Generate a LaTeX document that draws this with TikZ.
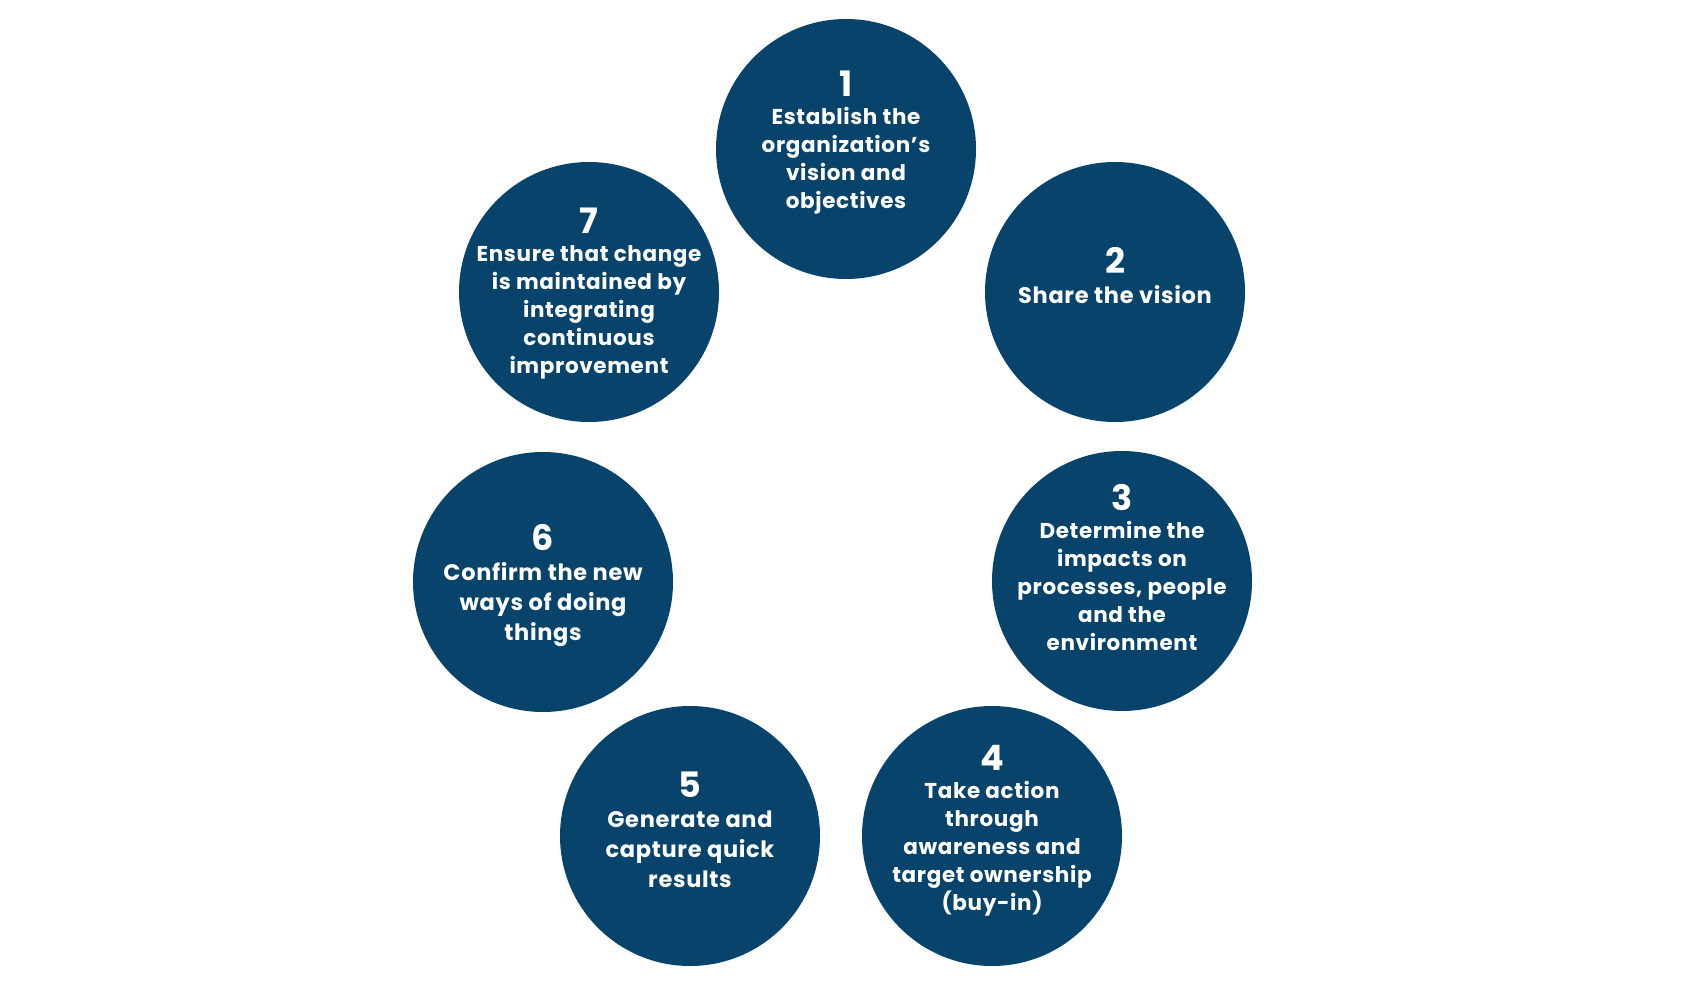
\documentclass[tikz,border=0pt]{standalone}
\usepackage{fontspec}
\setmainfont{Poppins}[LetterSpace=3]
\definecolor{navy}{RGB}{7,67,106}
\begin{document}
\begin{tikzpicture}[x=1pt,y=-1pt,
  disc/.style={circle,fill=navy,minimum size=260pt,inner sep=0pt},
  lbl/.style={text=white,align=center,anchor=north,inner sep=0pt,font=\bfseries\fontsize{21.5}{28}\selectfont},
  lblb/.style={lbl,font=\bfseries\fontsize{22.5}{30}\selectfont}]
\useasboundingbox (0,0) rectangle (1688,995);
\newcommand\bignum[1]{{\fontsize{35}{28}\selectfont #1}}
\node[disc] (c1) at (846,149) {};
\node[disc] (c2) at (1115,292) {};
\node[disc] (c3) at (1122,581) {};
\node[disc] (c4) at (992,836) {};
\node[disc] (c5) at (690,836) {};
\node[disc] (c6) at (543,582) {};
\node[disc] (c7) at (589,292) {};
\node[lbl] (t1) at (846,71) {\bignum{1}\\Establish the\\organization’s\\vision and\\objectives};
\node[lblb] (t2) at (1115,247) {\bignum{2}\\Share the vision};
\node[lbl] (t3) at (1122,484) {\bignum{3}\\Determine the\\impacts on\\processes, people\\and the\\environment};
\node[lbl] (t4) at (992,745) {\bignum{4}\\Take action\\through\\awareness and\\target ownership\\(buy-in)};
\node[lblb] (t5) at (690,772) {\bignum{5}\\Generate and\\capture quick\\results};
\node[lblb] (t6) at (543,524) {\bignum{6}\\Confirm the new\\ways of doing\\things};
\node[lbl] (t7) at (589,208) {\bignum{7}\\Ensure that change\\is maintained by\\integrating\\continuous\\improvement};
\end{tikzpicture}
\end{document}
